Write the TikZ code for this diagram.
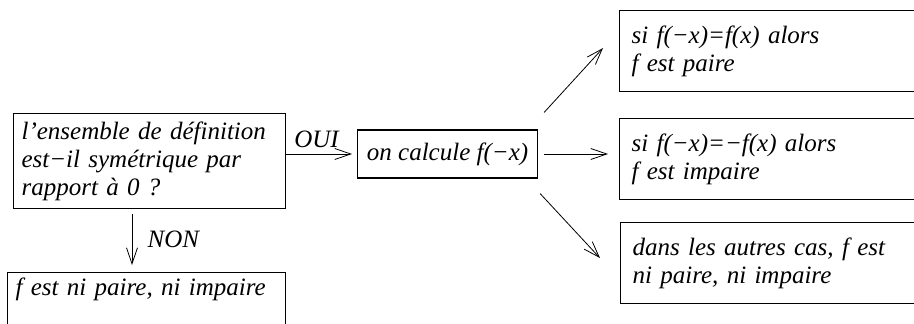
\documentclass[tikz,border=0pt]{standalone}
\usepackage{fontspec}
\setmainfont{Liberation Serif}
\usetikzlibrary{positioning, arrows.meta, calc}
\tikzset{
  question/.style={rectangle, draw, line width=1.1pt, align=left, inner xsep=8pt},
  result/.style={rectangle, draw, line width=1.1pt, align=left, inner xsep=12pt, text width=273pt, minimum height=81pt},
  flow/.style={->, line width=0.8pt}
}

\begin{document}
\begin{tikzpicture}[
  x=1pt, y=-1pt,
  >={Straight Barb[length=16pt, width=11pt]},
  every node/.style={font=\fontsize{25}{28}\selectfont\itshape}
]
  \useasboundingbox (0,0) rectangle (914,324);

  % LEVEL 1: the question and the computation
  \node[question, anchor=north west, text width=256pt, minimum height=95pt] (Q) at (13,113)
    {l’ensemble de définition\\est−il symétrique par\\rapport à 0 ?};
  \node[question, anchor=west, align=center, minimum width=180pt, minimum height=48pt] (calc) at (357,154)
    {on calcule f(−x)};

  % LEVEL 2: the three possible conclusions on the right
  \node[result, anchor=north west] (pair) at (619,10) {si f(−x)=f(x) alors\\f est paire};
  \node[result, anchor=north west] (impair) at (619,118) {si f(−x)=−f(x) alors\\f est impaire};
  \node[result, anchor=north west] (autre) at (620,222) {dans les autres cas, f est\\ni paire, ni impaire};

  % LEVEL 3: the answer when the set is not symmetric
  \node[question, anchor=north west, text width=262pt, text height=17pt, text depth=40pt, inner ysep=6pt] (ni) at (7,272)
    {f est ni paire, ni impaire};

  % Edges
  \draw[flow, shorten >=5pt] (Q.east |- calc.west) -- node[above=3pt, pos=0.43] {OUI} (calc.west);
  \draw[flow] ([xshift=119pt, yshift=-5pt]Q.south west) -- node[right=12pt] {NON} ([xshift=125pt, yshift=7pt]ni.north west);

  \draw[flow] ([xshift=6pt, yshift=17pt]calc.north east) -- ([xshift=-16pt, yshift=3pt]pair.west);
  \draw[flow, shorten <=6pt, shorten >=11pt] (calc.east) -- (calc.east -| impair.west);
  \draw[flow] ([xshift=2pt, yshift=-15pt]calc.south east) -- ([xshift=-20pt, yshift=5pt]autre.west);

\end{tikzpicture}
\end{document}
